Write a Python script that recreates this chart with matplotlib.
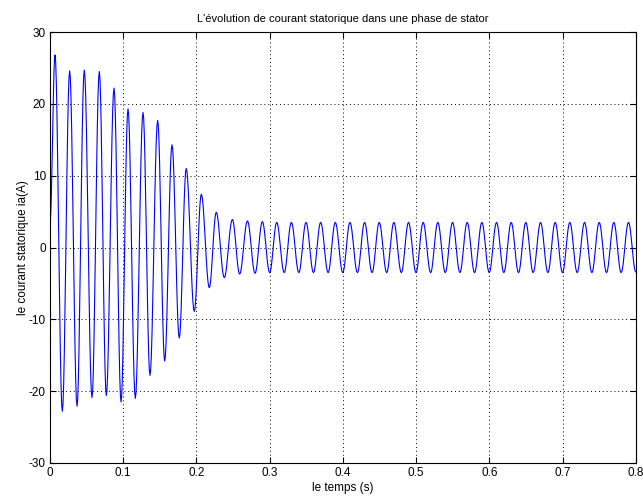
import numpy as np
import matplotlib
matplotlib.use("Agg")
import matplotlib.pyplot as plt

# extrema of the stator current (time in s, current in A)
ext_t = [0.000, 0.0068, 0.0168, 0.0268, 0.0369, 0.0468, 0.0573, 0.0673, 0.0769,
         0.0874, 0.0970, 0.1065, 0.1165, 0.1270, 0.1365, 0.1470, 0.1566, 0.1666,
         0.1765, 0.1860, 0.1970, 0.2066, 0.2175, 0.2270, 0.2380, 0.2490, 0.2590,
         0.2696, 0.2800, 0.2900, 0.3000, 0.3096, 0.3198, 0.3296, 0.3398, 0.3496,
         0.3598, 0.3696, 0.3798, 0.3896, 0.3998, 0.4096, 0.4198, 0.4296, 0.4398,
         0.4496, 0.4598, 0.4696, 0.4798, 0.4896, 0.4998, 0.5096, 0.5198, 0.5296,
         0.5398, 0.5497, 0.5598, 0.5697, 0.5798, 0.5898, 0.5998, 0.6098, 0.6198,
         0.6298, 0.6398, 0.6498, 0.6598, 0.6699, 0.6799, 0.6899, 0.6999, 0.7099,
         0.7199, 0.7300, 0.7400, 0.7500, 0.7600, 0.7700, 0.7800, 0.7900, 0.8000]
ext_v = [3.4, 26.8, -22.8, 24.6, -22.1, 24.7, -20.9, 24.5, -20.6,
         22.2, -21.5, 19.3, -21.0, 18.8, -17.8, 17.7, -15.8, 14.3,
         -12.6, 11.0, -8.9, 7.4, -5.6, 4.9, -4.2, 3.9, -3.7,
         3.7, -3.6, 3.6, -3.5, 3.5, -3.5, 3.5, -3.5, 3.5,
         -3.5, 3.5, -3.5, 3.5, -3.5, 3.5, -3.5, 3.5, -3.5,
         3.5, -3.5, 3.5, -3.5, 3.5, -3.5, 3.5, -3.5, 3.5,
         -3.5, 3.5, -3.5, 3.5, -3.5, 3.5, -3.5, 3.5, -3.5,
         3.5, -3.5, 3.5, -3.5, 3.5, -3.5, 3.5, -3.5, 3.5,
         -3.5, 3.5, -3.5, 3.5, -3.5, 3.5, -3.5, 3.5, -3.4]

x_ticks = [0, 0.1, 0.2, 0.3, 0.4, 0.5, 0.6, 0.7, 0.8]
x_labels = ['0', '0.1', '0.2', '0.3', '0.4', '0.5', '0.6', '0.7', '0.8']
y_ticks = [-30, -20, -10, 0, 10, 20, 30]

# smooth half-wave between consecutive extrema
t, ia = [], []
u = np.linspace(0, 1, 12)
for i in range(len(ext_t) - 1):
    t.extend(ext_t[i] + (ext_t[i + 1] - ext_t[i]) * u[:-1])
    ia.extend(ext_v[i] + (ext_v[i + 1] - ext_v[i]) * (1 - np.cos(np.pi * u[:-1])) / 2)
t.append(ext_t[-1])
ia.append(ext_v[-1])

plt.rcParams['font.family'] = ['Liberation Sans', 'DejaVu Sans']
plt.rcParams['axes.unicode_minus'] = False

fig = plt.figure(figsize=(6.43, 4.98), dpi=100)
ax = fig.add_axes([0.0778, 0.0703, 0.911, 0.8654])
ax.plot(t, ia, color='#0000ff', linewidth=0.8)

ax.set_xlim(0, 0.8)
ax.set_ylim(-30, 30)
ax.set_xticks(x_ticks)
ax.set_xticklabels(x_labels)
ax.set_yticks(y_ticks)
ax.tick_params(direction='in', top=True, right=True, length=4, labelsize=8.5, pad=3)
ax.grid(True, color='black', linestyle=(0, (1, 3)), linewidth=0.7)
for s in ax.spines.values():
    s.set_linewidth(0.8)

ax.set_title("L'évolution de courant statorique dans une phase de stator", fontsize=8, pad=7)
ax.set_xlabel('le temps (s)', fontsize=8.5, labelpad=2)
ax.set_ylabel('le courant statorique ia(A)', fontsize=8.5, labelpad=0)

fig.savefig('out.png', dpi=100)
